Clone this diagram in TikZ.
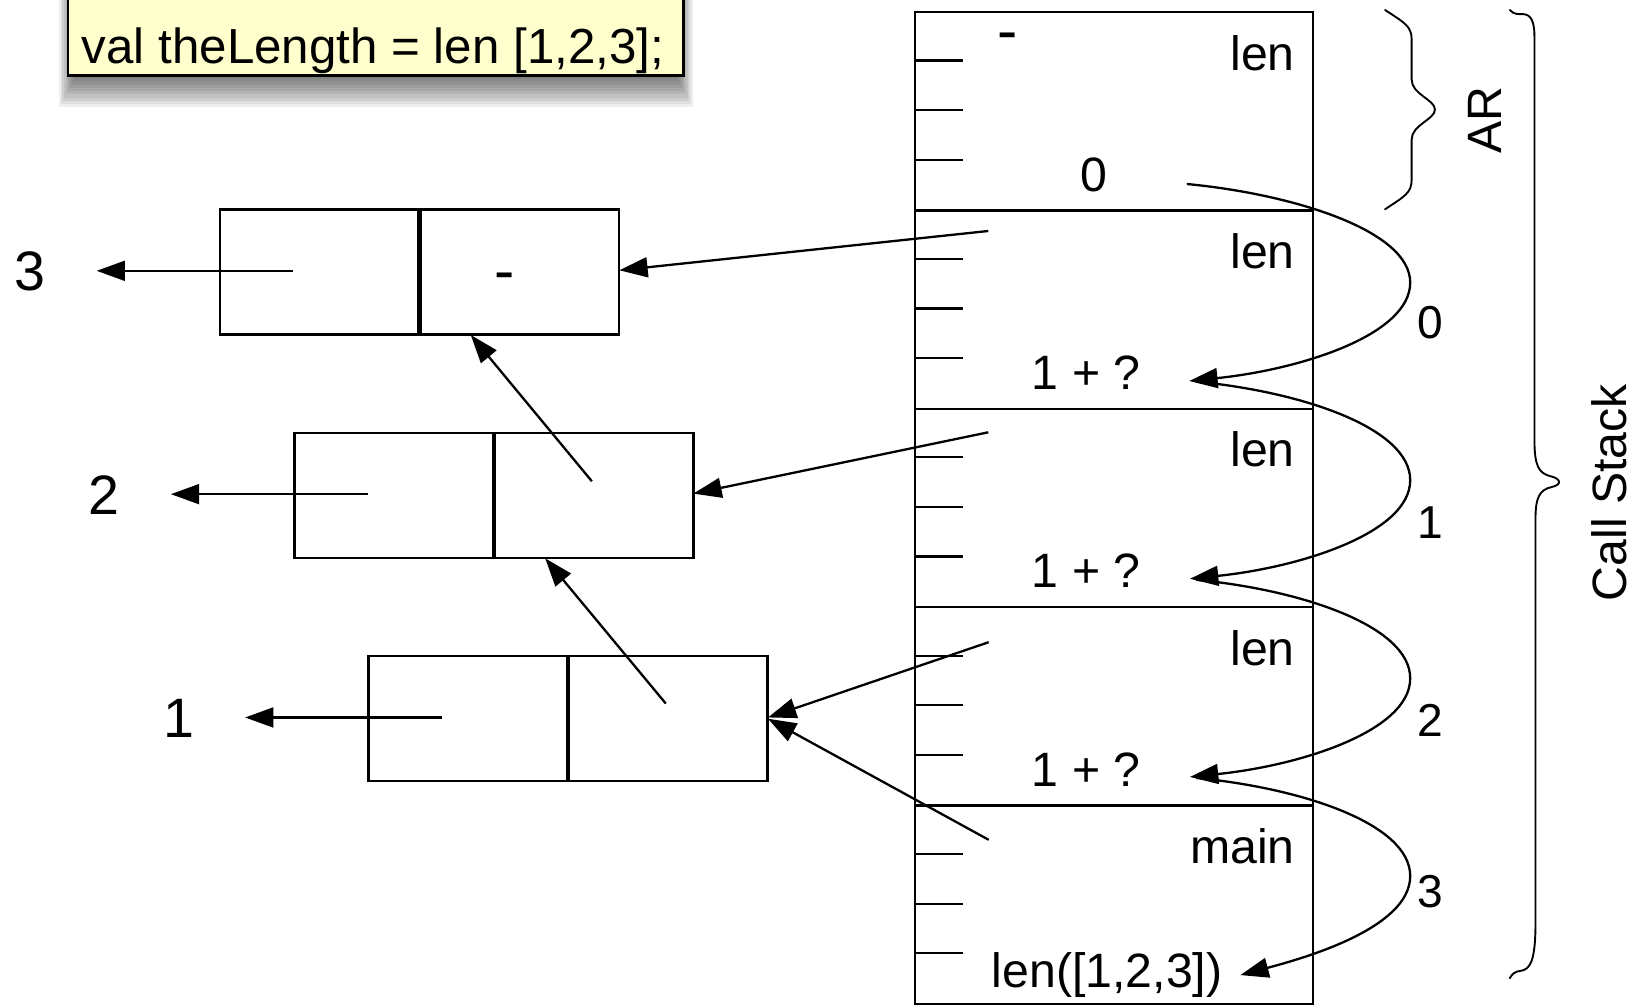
\documentclass[tikz,border=0pt]{standalone}
\usepackage{fontspec}
\setmainfont{Liberation Sans}
\usetikzlibrary{arrows.meta}
\definecolor{note}{RGB}{255,255,206}
\begin{document}
\begin{tikzpicture}[x=0.5pt,y=-0.5pt, line width=1.1pt,
  txt/.style={inner sep=0pt, font=\fontsize{23}{27}\selectfont},
  numtxt/.style={inner sep=0pt, font=\fontsize{22}{26}\selectfont},
  bigtxt/.style={inner sep=0pt, font=\fontsize{26.5}{30}\selectfont},
  dashtxt/.style={inner sep=0pt, font=\fontsize{29}{30}\selectfont},
  cellbox/.style={draw, line width=1.1pt, minimum width=94.575pt, minimum height=59.6pt, inner sep=0pt, anchor=north west},
  framebox/.style={draw, line width=1.1pt, minimum width=189.65pt, minimum height=94.6pt, inner sep=0pt, anchor=north west},
  arr/.style={-{Triangle[length=13.5pt,width=9.5pt]}, line width=1.1pt},
  bracepath/.style={line width=0.9pt, line cap=round, line join=round},
]
\useasboundingbox (0,0) rectangle (1568,957.6);

% ---------- code note with shadow ----------
\foreach \d in {0,3,...,27}
  \fill[black, opacity=0.065] ({71-\d*0.55},-40) rectangle ({646+\d*0.55},{75+\d});
\draw[fill=note] (65,-30) rectangle (652,72);
\node[txt, font=\fontsize{23.5}{27}\selectfont, anchor=base west] (code) at (77,61) {val theLength = len [1,2,3];};

% ---------- call stack ----------
\node[framebox] (f0) at (871.7,10.5) {};
\node[framebox] (f1) at (871.7,199.7) {};
\node[framebox] (f2) at (871.7,388.9) {};
\node[framebox] (f3) at (871.7,578.1) {};
\node[framebox] (f4) at (871.7,767.3) {};
\foreach \k in {0,...,4}
  \foreach \t in {1,2,3}
    \draw (871.7,{10.5+\k*189.2+\t*47.3}) -- ++(47,0);

\node[txt, anchor=base east] (fn0) at (1236,66.8) {len};
\node[txt, anchor=base east] (fn1) at (1236,256) {len};
\node[txt, anchor=base east] (fn2) at (1236,445.2) {len};
\node[txt, anchor=base east] (fn3) at (1236,634.4) {len};
\node[txt, anchor=base east] (fn4) at (1236,824) {main};

\node[dashtxt, anchor=base] (nil0) at (961,49) {-};
\node[txt, anchor=base] (v0) at (1043,182.5) {0};
\node[txt, anchor=base] (v1) at (1036,371.4) {1 + ?};
\node[txt, anchor=base] (v2) at (1036,560.6) {1 + ?};
\node[txt, anchor=base] (v3) at (1036,749.8) {1 + ?};
\node[txt, anchor=base east] (v4) at (1167,942.3) {len([1,2,3])};

% ---------- list cells ----------
\node[cellbox] (b3l) at (208.9,198.7) {};
\node[cellbox] (b3r) at (b3l.north east) {};
\node[cellbox] (b2l) at (279.7,411.7) {};
\node[cellbox] (b2r) at (b2l.north east) {};
\node[cellbox] (b1l) at (350.5,624.7) {};
\node[cellbox] (b1r) at (b1l.north east) {};
\node[dashtxt, anchor=base] (nil3) at (481,278) {-};

\node[bigtxt] (n3) at (28.6,258.8) {3};
\node[bigtxt] (n2) at (99.4,471.8) {2};
\node[bigtxt] (n1) at (170.2,684.8) {1};

\coordinate (h3s) at (279.8,258.3);  \coordinate (h3t) at (92.2,258.3);
\coordinate (h2s) at (350.6,471.3);  \coordinate (h2t) at (163,471.3);
\coordinate (h1s) at (421.5,684.3);  \coordinate (h1t) at (233.8,684.3);
\draw[arr] (h3s) -- (h3t);
\draw[arr] (h2s) -- (h2t);
\draw[arr] (h1s) -- (h1t);

\coordinate (t2s) at (564.5,459);  \coordinate (t2t) at (449,319.5);
\coordinate (t1s) at (635,671);    \coordinate (t1t) at (520,532.5);
\draw[arr] (t2s) -- (t2t);
\draw[arr] (t1s) -- (t1t);

\coordinate (a0s) at (942.6,220.3); \coordinate (a0t) at (590.7,257.8);
\coordinate (a1s) at (942.6,412.3); \coordinate (a1t) at (661.3,470.8);
\coordinate (a2s) at (943,612.5);   \coordinate (a2t) at (732.5,684.3);
\coordinate (a3s) at (943,801);     \coordinate (a3t) at (732.5,685.5);
\draw[arr] (a0s) -- (a0t);
\draw[arr] (a1s) -- (a1t);
\draw[arr] (a2s) -- (a2t);
\draw[arr] (a3s) -- (a3t);

% ---------- return-value curves ----------
\coordinate (r0s) at (1132,175.5);  \coordinate (r0t) at (1134.3,363.4);
\coordinate (r1s) at (1141,364);    \coordinate (r1t) at (1135,552);
\coordinate (r2s) at (1141,553);    \coordinate (r2t) at (1135,741);
\coordinate (r3s) at (1141,742);    \coordinate (r3t) at (1183,930);
\draw[arr] (r0s) .. controls (1232,185) and (1345,219.5) .. (1345,269.5)
                 .. controls (1345,319.5) and (1240.3,352.4) .. (r0t);
\draw[arr] (r1s) .. controls (1241,373.5) and (1345,408) .. (1345,458)
                 .. controls (1345,508) and (1241,541) .. (r1t);
\draw[arr] (r2s) .. controls (1241,562.5) and (1345,597) .. (1345,647)
                 .. controls (1345,697) and (1241,730) .. (r2t);
\draw[arr] (r3s) .. controls (1241,751.5) and (1345,785.5) .. (1345,835.5)
                 .. controls (1345,885.5) and (1243,914) .. (r3t);
\node[numtxt] (c0) at (1364,308) {0};
\node[numtxt] (c1) at (1364,498) {1};
\node[numtxt] (c2) at (1364,687) {2};
\node[numtxt] (c3) at (1364,850) {3};

% ---------- braces ----------
\draw[bracepath] (1321,9.5) .. controls (1340,22) and (1346.4,25) .. (1346.4,38)
  -- (1346.4,76) .. controls (1346.4,90) and (1368.6,95) .. (1368.6,104.5)
  .. controls (1368.6,114) and (1346.4,119) .. (1346.4,133)
  -- (1346.4,171) .. controls (1346.4,184) and (1340,187) .. (1321,199.6);
\node[txt, rotate=90] (ar) at (1416.5,114.6) {AR};

\draw[bracepath] (1440,9.5) .. controls (1444,14) and (1448,13.5) .. (1453,13.5)
  .. controls (1460,14) and (1463.5,20) .. (1463.5,35)
  -- (1463.5,420) .. controls (1463.5,445) and (1468,451) .. (1478,454)
  .. controls (1488,456) and (1491,462) .. (1480,464.5)
  .. controls (1468,467) and (1464.5,475) .. (1464.5,495)
  -- (1464.5,880) .. controls (1464.5,915) and (1460,925) .. (1450,926)
  .. controls (1445,926.5) and (1442,929) .. (1440,933);
\node[txt, rotate=90] (cs) at (1534.6,470) {Call Stack};
\end{tikzpicture}
\end{document}
